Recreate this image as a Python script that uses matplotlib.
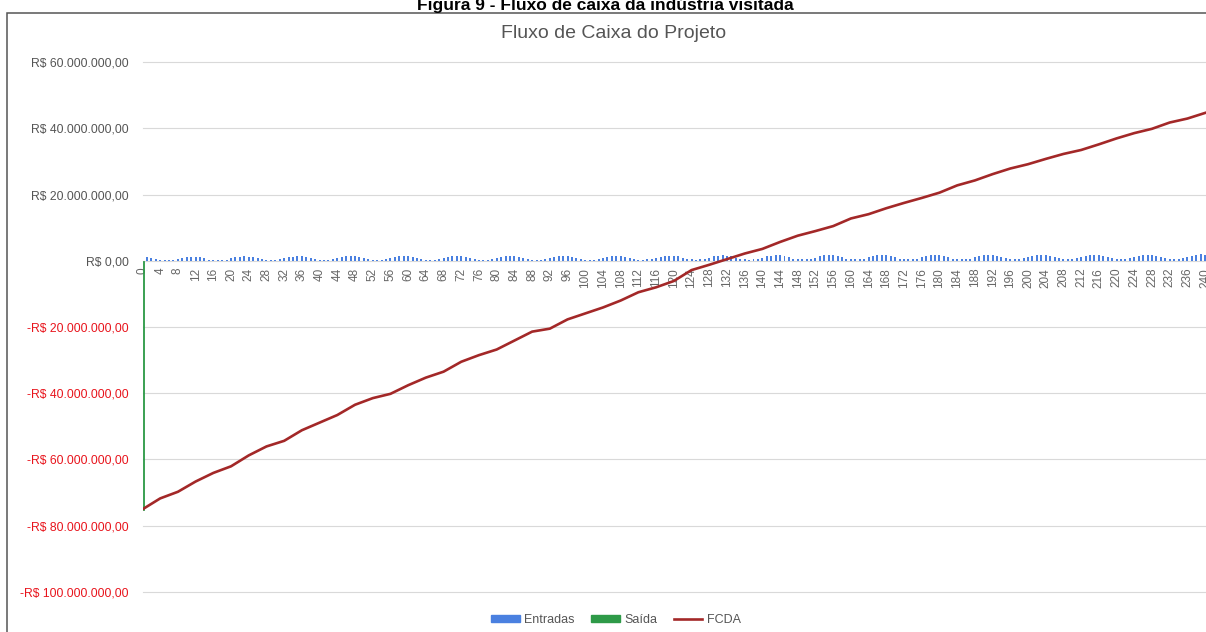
# Fluxo de caixa do projeto: entradas mensais, saida inicial e FCDA acumulado.

# Import of libraries
import matplotlib
matplotlib.use("Agg")
import matplotlib.pyplot as plt
from matplotlib.patches import Patch, Rectangle
from matplotlib.lines import Line2D

# -----------------------------------------------------------------------------
# Data (valores em milhoes de R$)

# Entradas mensais, um ano (12 meses) por linha, meses 0 a 240
entradas = [
    1.3, 1.1, 0.8, 0.5, 0.3, 0.3, 0.3, 0.4, 0.7, 1.0, 1.2, 1.3,
    1.3, 1.1, 0.8, 0.4, 0.3, 0.3, 0.3, 0.4, 0.8, 1.1, 1.3, 1.4,
    1.3, 1.1, 0.8, 0.5, 0.3, 0.3, 0.4, 0.5, 0.8, 1.1, 1.3, 1.4,
    1.4, 1.2, 0.9, 0.5, 0.3, 0.3, 0.3, 0.5, 0.8, 1.1, 1.4, 1.4,
    1.4, 1.2, 0.9, 0.5, 0.4, 0.3, 0.4, 0.5, 0.8, 1.2, 1.4, 1.5,
    1.4, 1.2, 0.9, 0.5, 0.4, 0.3, 0.4, 0.5, 0.9, 1.2, 1.4, 1.5,
    1.5, 1.2, 0.9, 0.6, 0.4, 0.4, 0.4, 0.5, 0.9, 1.2, 1.5, 1.5,
    1.5, 1.3, 0.9, 0.6, 0.4, 0.4, 0.4, 0.6, 0.9, 1.3, 1.5, 1.6,
    1.5, 1.3, 1.0, 0.6, 0.4, 0.4, 0.4, 0.6, 0.9, 1.3, 1.5, 1.6,
    1.6, 1.3, 1.0, 0.6, 0.4, 0.4, 0.5, 0.6, 1.0, 1.3, 1.6, 1.6,
    1.6, 1.4, 1.0, 0.6, 0.5, 0.4, 0.5, 0.6, 1.0, 1.4, 1.6, 1.7,
    1.6, 1.4, 1.0, 0.7, 0.5, 0.4, 0.5, 0.7, 1.0, 1.4, 1.6, 1.7,
    1.7, 1.4, 1.1, 0.7, 0.5, 0.5, 0.5, 0.7, 1.0, 1.4, 1.7, 1.7,
    1.7, 1.4, 1.1, 0.7, 0.5, 0.5, 0.5, 0.7, 1.1, 1.4, 1.7, 1.8,
    1.7, 1.5, 1.1, 0.7, 0.5, 0.5, 0.5, 0.7, 1.1, 1.5, 1.7, 1.8,
    1.8, 1.5, 1.1, 0.7, 0.5, 0.5, 0.6, 0.7, 1.1, 1.5, 1.8, 1.8,
    1.8, 1.5, 1.2, 0.8, 0.6, 0.5, 0.6, 0.8, 1.1, 1.5, 1.8, 1.9,
    1.8, 1.6, 1.2, 0.8, 0.6, 0.5, 0.6, 0.8, 1.2, 1.6, 1.8, 1.9,
    1.9, 1.6, 1.2, 0.8, 0.6, 0.6, 0.6, 0.8, 1.2, 1.6, 1.9, 1.9,
    1.9, 1.6, 1.2, 0.8, 0.6, 0.6, 0.6, 0.8, 1.2, 1.6, 1.9, 2.0,
    1.9,
]
meses = list(range(len(entradas)))

# Saida (investimento inicial) no mes 0
saida_meses = [0]
saida = [-75.3]

# FCDA acumulado, lido a cada 4 meses
fcda_meses = list(range(0, 241, 4))
fcda = [
    -75.1, -71.8, -69.8, -66.7, -64.1, -62.1, -58.8, -56.1, -54.4, -51.2,
    -48.9, -46.6, -43.5, -41.5, -40.2, -37.6, -35.3, -33.5, -30.5, -28.5,
    -26.8, -24.1, -21.4, -20.5, -17.7, -15.9, -14.1, -12.0, -9.5, -8.0,
    -6.1, -2.8, -1.2, 0.5, 2.2, 3.6, 5.7, 7.6, 9.0, 10.5,
    12.8, 14.1, 15.9, 17.5, 19.0, 20.6, 22.8, 24.3, 26.2, 27.9,
    29.2, 30.8, 32.3, 33.5, 35.2, 37.0, 38.6, 39.9, 41.8, 43.0,
    44.7,
]

y_ticks = [-100, -80, -60, -40, -20, 0, 20, 40, 60]

# -----------------------------------------------------------------------------
# Functions

def brl(valor_mi):
    """
    Formata um valor em milhoes como moeda brasileira.
    """
    if valor_mi == 0:
        return "R$ 0,00"
    inteiro = f"{abs(int(valor_mi * 1e6)):,}".replace(",", ".")
    sinal = "-" if valor_mi < 0 else ""
    return f"{sinal}R$ {inteiro},00"


# -----------------------------------------------------------------------------
# Beginning of main program

plt.rcParams["font.family"] = ["Liberation Sans", "DejaVu Sans"]

W, H = 1206, 632
fig = plt.figure(figsize=(W / 100, H / 100), dpi=100)
fig.patch.set_facecolor("white")

x0, x1 = 142.5, 1206
y_top, y_bot = 62.3, 591.7
ax = fig.add_axes([x0 / W, 1 - y_bot / H, (x1 - x0) / W, (y_bot - y_top) / H])

ax.bar(meses, entradas, width=0.45, color="#4a80e0", zorder=2)
ax.bar([m + 0.22 for m in saida_meses], saida, width=0.44, color="#2e9a48",
       edgecolor="#2e9a48", linewidth=0.6, zorder=2)
ax.plot(fcda_meses, fcda, color="#a32828", linewidth=1.9, zorder=3,
        solid_joinstyle="round")

ax.set_xlim(0, 240.2)
ax.set_ylim(-100, 60)

ax.set_yticks(y_ticks)
ax.set_yticklabels([brl(v) for v in y_ticks])
for lbl, v in zip(ax.get_yticklabels(), y_ticks):
    lbl.set_color("#e8141c" if v < 0 else "#555555")
ax.tick_params(axis="y", length=0, pad=10, labelsize=8.7)

ax.set_xticks(fcda_meses)
ax.set_xticklabels([str(m) for m in fcda_meses])
ax.spines["bottom"].set_position(("data", 0))
ax.tick_params(axis="x", length=0, pad=5, labelsize=8.5, labelrotation=90,
               labelcolor="#666666")
for lbl in ax.get_xticklabels():
    lbl.set_clip_on(False)

for s in ax.spines.values():
    s.set_visible(False)
ax.grid(axis="y", color="#d9d9d9", linewidth=0.8, zorder=0)
for gl in ax.get_ygridlines():
    gl.set_clip_on(False)
ax.set_axisbelow(True)

# Moldura do grafico
fig.add_artist(Rectangle((6.7 / W, -0.5), 2.0, (1 - 12.7 / H) + 0.5,
                         transform=fig.transFigure, fill=False,
                         edgecolor="#555555", linewidth=1.1))

fig.text(605 / W, 1 - 10 / H, "Figura 9 - Fluxo de caixa da indústria visitada",
         ha="center", va="baseline", fontsize=12.5, fontweight="bold", color="black")
fig.text(614 / W, 1 - 33 / H, "Fluxo de Caixa do Projeto",
         ha="center", va="center", fontsize=14, color="#555555")

handles = [Patch(color="#4a80e0", label="Entradas"),
           Patch(color="#2e9a48", label="Saída"),
           Line2D([], [], color="#a32828", linewidth=1.9, label="FCDA")]
fig.legend(handles=handles, loc="center", bbox_to_anchor=(616 / W, 1 - 620 / H),
           ncol=3, frameon=False, fontsize=9, handlelength=2.3, handleheight=0.4,
           handletextpad=0.35, columnspacing=1.3, labelcolor="#555555")

fig.savefig("out.png", dpi=100)
